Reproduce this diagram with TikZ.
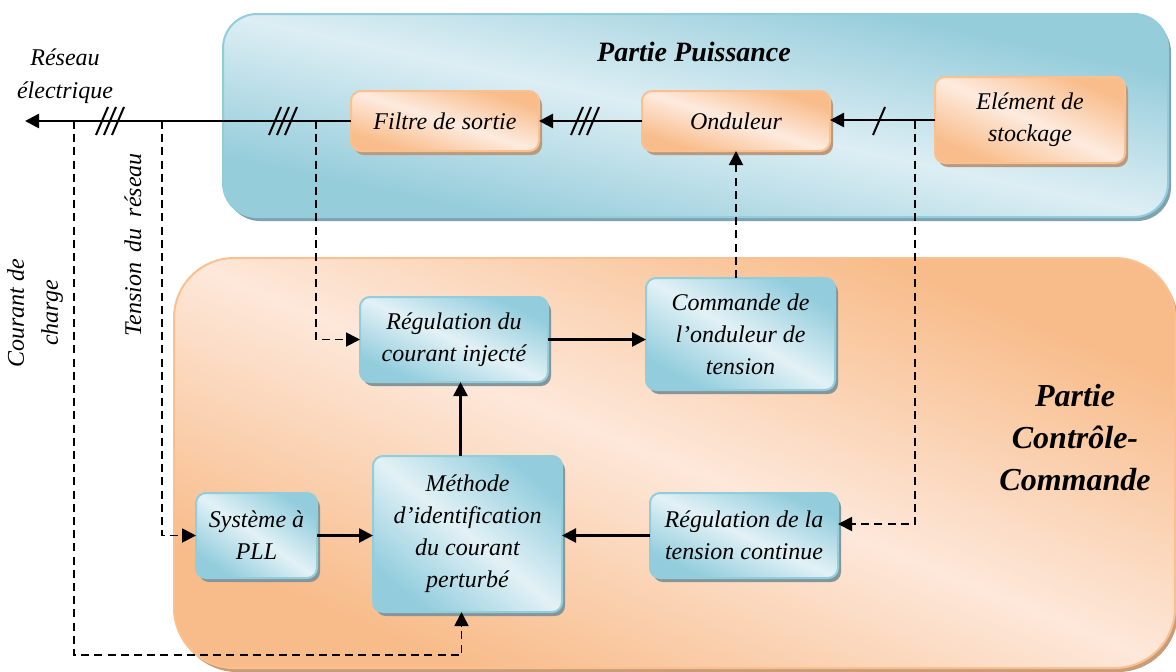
\documentclass[tikz,border=0pt]{standalone}
\usepackage{fontspec}
\setmainfont{Liberation Serif}
\usetikzlibrary{arrows.meta,calc}
\definecolor{bdark}{HTML}{93CDDD}
\definecolor{blight}{HTML}{E2F1F6}
\definecolor{bborder}{HTML}{92CDDC}
\definecolor{bshadow}{HTML}{85959A}
\definecolor{odark}{HTML}{F9BD8C}
\definecolor{olight}{HTML}{FDEBDF}
\definecolor{oborder}{HTML}{FAC090}
\definecolor{oshadow}{HTML}{B89A80}
\definecolor{pbdark}{HTML}{96CDDB}
\definecolor{pblight}{HTML}{DDEEF4}
\definecolor{pbborder}{HTML}{92CDDC}
\definecolor{pbshadow}{HTML}{7FA3AE}
\definecolor{podark}{HTML}{F8BC8A}
\definecolor{polight}{HTML}{FDE8DA}
\definecolor{poborder}{HTML}{FAC090}
\definecolor{poshadow}{HTML}{C99C78}
% #1 name, #2 cx, #3 cy, #4 width px, #5 height px, #6 palette prefix, #7 radius, #8 text
\newcommand{\gradbox}[8]{%
  \fill[#6shadow, rounded corners=#7] (#2-#4/2+3,#3-#5/2+4) rectangle (#2+#4/2+3,#3+#5/2+4);
  \begin{scope}
    \clip[rounded corners=#7] (#2-#4/2,#3-#5/2) rectangle (#2+#4/2,#3+#5/2);
    \begin{scope}[transform canvas={shift={(#2,#3)}, xscale=#4/4, yscale=#5/4}]
      \shade[left color=#6dark, right color=#6dark, middle color=#6light, shading angle=-45]
        (-1pt,-1pt) rectangle (1pt,1pt);
    \end{scope}
  \end{scope}
  \node[boxframe, draw=#6border, rounded corners=#7, minimum width=#4*0.5pt, minimum height=#5*0.5pt]
    (#1) at (#2,#3) {#8};
}
\begin{document}
\begin{tikzpicture}[x=0.5pt,y=-0.5pt,
  boxframe/.style={font=\fontsize{12}{16}\selectfont\itshape, line width=1pt,
    align=center, text=black, inner sep=2pt, outer sep=0pt},
  power/.style={line width=1.3pt},
  arr/.style={-{Triangle[length=7pt,width=7pt]}},
  sig/.style={line width=0.9pt, dash pattern=on 4pt off 2.6pt, -{Triangle[length=7pt,width=7pt]}},
  slash/.style={line width=1pt},
  label/.style={font=\fontsize{12}{16}\selectfont\itshape, align=center, inner sep=0pt},
  title/.style={font=\fontsize{14}{18}\selectfont\bfseries\itshape, align=center, inner sep=0pt},
  bigtitle/.style={font=\fontsize{16}{21}\selectfont\bfseries\itshape, align=center, inner sep=0pt}
]
\useasboundingbox (0,0) rectangle (1176,671);
\begin{scope}
\clip (0,0) rectangle (1176,671);
% panels
\gradbox{puissance}{695.5}{115.5}{945}{203}{pb}{17pt}{}
\gradbox{controle}{674.5}{463}{1001}{410}{po}{30pt}{}
\end{scope}
\node[title] (tpuis) at (694,52) {Partie Puissance};
\node[bigtitle] (tcont) at (1075,438) {Partie\\Contrôle-\\Commande};

% boxes
\gradbox{filtre}{445}{121}{188}{60}{o}{5pt}{Filtre de sortie}
\gradbox{ond}{736}{121}{188}{60}{o}{5pt}{Onduleur}
\gradbox{stock}{1030}{120}{190}{86}{o}{5pt}{Elément de\\stockage}
\gradbox{regc}{454}{339.5}{188}{85}{b}{5pt}{Régulation du\\courant injecté}
\gradbox{cmd}{740.5}{334}{189}{112}{b}{5pt}{Commande de\\l’onduleur de\\tension}
\gradbox{pll}{256.5}{535.5}{121}{85}{b}{5pt}{Système à\\PLL}
\gradbox{meth}{467.5}{534}{189}{156}{b}{5pt}{Méthode\\d’identification\\du courant\\perturbé}
\gradbox{regt}{744}{535.5}{188}{85}{b}{5pt}{Régulation de la\\tension continue}

% outside labels
\node[label, font=\fontsize{12}{16.5}\selectfont\itshape] (reseau) at (65,76) {Réseau\\électrique};
\node[label, font=\fontsize{12}{17}\selectfont\itshape, rotate=90] (courant) at (35,313) {Courant de\\charge};
\node[label, rotate=90] (tension) at (133,245) {Tension\hspace{0.45em}du\hspace{0.45em}réseau};

% power line
\coordinate (grid) at (25,121);
\draw[power,arr] (filtre.west) -- (grid);
\draw[power,arr] (ond.west) -- (filtre.east);
\draw[power,arr] (stock.west) -- (stock.west -| ond.east);
\foreach \x in {102,110,118,275,283,291,577,585,593,879}
  \draw[slash] (\x-6,135) -- (\x+6,107);

% measurement taps
\coordinate (t1) at (74,121);
\coordinate (t2) at (162,121);
\coordinate (t3) at (316,121);
\coordinate (t4) at (915,121);
\coordinate (c1) at (74,655);
\draw[sig] (t1) -- (c1) -| ([xshift=-3pt]meth.south);
\draw[sig] (t2) |- (pll.west);
\draw[sig] (t3) |- (regc.west);
\draw[sig] (t4) |- ([yshift=5.75pt]regt.east);
\draw[sig] (ond.south |- cmd.north) -- (ond.south);

% control arrows
\draw[power,arr] (regc.east) -- (regc.east -| cmd.west);
\draw[power,arr] ([xshift=-3.5pt]meth.north) -- ([xshift=-3.5pt]meth.north |- regc.south);
\draw[power,arr] (pll.east) -- (pll.east -| meth.west);
\draw[power,arr] (regt.west) -- (regt.west -| meth.east);
\end{tikzpicture}
\end{document}
